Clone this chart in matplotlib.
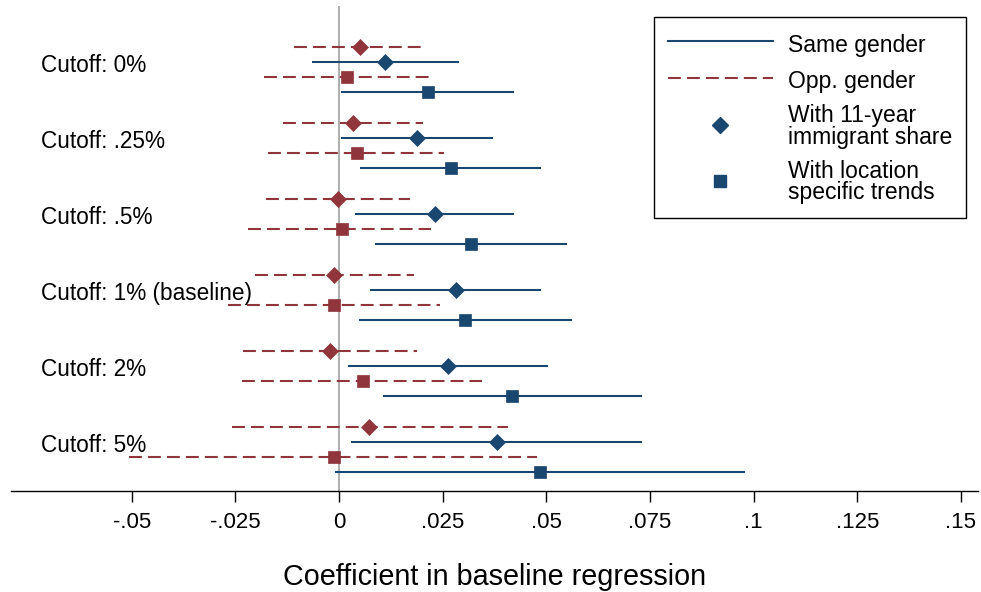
import matplotlib
matplotlib.use('Agg')
import matplotlib.pyplot as plt
from matplotlib.lines import Line2D

OUTPUT_PNG = 'out.png'

BLUE = '#1a476f'
RED = '#90353b'
DASH = (0, (6.2, 2.9))

groups = ['Cutoff: 0%', 'Cutoff: .25%', 'Cutoff: .5%',
          'Cutoff: 1% (baseline)', 'Cutoff: 2%', 'Cutoff: 5%']

# opposite gender, with 11-year immigrant share (diamond)
opp_share_b = [0.0051, 0.0034, -0.0003, -0.0012, -0.0022, 0.0073]
opp_share_lo = [-0.0108, -0.0134, -0.0177, -0.0203, -0.0231, -0.0259]
opp_share_hi = [0.0200, 0.0202, 0.0171, 0.0181, 0.0187, 0.0407]

# same gender, with 11-year immigrant share (diamond)
same_share_b = [0.0112, 0.0188, 0.0231, 0.0282, 0.0263, 0.0380]
same_share_lo = [-0.0064, 0.0004, 0.0039, 0.0075, 0.0021, 0.0028]
same_share_hi = [0.0289, 0.0371, 0.0423, 0.0488, 0.0505, 0.0732]

# opposite gender, with location specific trends (square)
opp_trend_b = [0.0019, 0.0043, 0.0006, -0.0011, 0.0057, -0.0013]
opp_trend_lo = [-0.0180, -0.0171, -0.0219, -0.0267, -0.0235, -0.0506]
opp_trend_hi = [0.0217, 0.0254, 0.0223, 0.0244, 0.0346, 0.0477]

# same gender, with location specific trends (square)
same_trend_b = [0.0214, 0.0269, 0.0318, 0.0305, 0.0417, 0.0485]
same_trend_lo = [0.0004, 0.0051, 0.0086, 0.0047, 0.0105, -0.0010]
same_trend_hi = [0.0421, 0.0488, 0.0551, 0.0562, 0.0731, 0.0979]

x_ticks = [-0.05, -0.025, 0, 0.025, 0.05, 0.075, 0.1, 0.125, 0.15]
x_tick_labels = ['-.05', '-.025', '0', '.025', '.05', '.075', '.1', '.125', '.15']


def draw_series(ax, row, b, lo, hi, color, marker, ms, ls):
    ys = [g * 5 + row for g in range(len(b))]
    ax.hlines(ys, lo, hi, colors=color, linewidth=1.5, linestyles=ls, zorder=2)
    ax.plot(b, ys, linestyle='none', marker=marker, markersize=ms,
            color=color, markeredgewidth=0.5, zorder=3)


def draw_chart(out_path):
    plt.rcParams['font.family'] = ['Liberation Sans', 'DejaVu Sans']

    fig = plt.figure(figsize=(9.81, 5.92), dpi=100)
    ax = fig.add_axes([0.0109, 0.1711, 0.9863, 0.8188])

    ax.set_xlim(-0.0792, 0.1542)
    ax.set_ylim(29.2, -2.68)

    ax.axvline(0, color='#a0a0a0', linewidth=1.2, zorder=1)

    draw_series(ax, 0, opp_share_b, opp_share_lo, opp_share_hi, RED, 'D', 7.8, DASH)
    draw_series(ax, 1, same_share_b, same_share_lo, same_share_hi, BLUE, 'D', 7.8, 'solid')
    draw_series(ax, 2, opp_trend_b, opp_trend_lo, opp_trend_hi, RED, 's', 8, DASH)
    draw_series(ax, 3, same_trend_b, same_trend_lo, same_trend_hi, BLUE, 's', 8, 'solid')

    for g, name in enumerate(groups):
        ax.text(-0.0719, g * 5 + 1.65, name, fontsize=16.3, va='baseline', ha='left')

    ax.set_xticks(x_ticks)
    ax.set_xticklabels(x_tick_labels, fontsize=16)
    ax.tick_params(axis='x', length=8, width=1, pad=7)
    ax.set_yticks([])
    for side in ['left', 'right', 'top']:
        ax.spines[side].set_visible(False)
    ax.spines['bottom'].set_linewidth(1)

    ax.set_xlabel('Coefficient in baseline regression', fontsize=20.7)
    ax.xaxis.set_label_coords(0.5, -0.150)

    handles = [
        Line2D([], [], color=BLUE, linewidth=1.5),
        Line2D([], [], color=RED, linewidth=1.5, linestyle=DASH),
        Line2D([], [], color=BLUE, linestyle='none', marker='D', markersize=7.8),
        Line2D([], [], color=BLUE, linestyle='none', marker='s', markersize=8),
    ]
    labels = ['Same gender', 'Opp. gender',
              'With 11-year\nimmigrant share', 'With location\nspecific trends']
    leg = ax.legend(handles, labels, loc='upper left',
                    bbox_to_anchor=(654 / 981, 1 - 17.3 / 592),
                    bbox_transform=fig.transFigure, borderaxespad=0,
                    fontsize=16.5, handlelength=4.6, handletextpad=0.65,
                    handleheight=1.35, borderpad=0.6, labelspacing=0.48,
                    fancybox=False, framealpha=1, edgecolor='black')
    leg.get_frame().set_linewidth(1)
    for t in leg.get_texts():
        t.set_linespacing(0.9)

    fig.savefig(out_path, dpi=100)
    plt.close(fig)


def main():
    draw_chart(OUTPUT_PNG)


if __name__ == '__main__':
    main()
